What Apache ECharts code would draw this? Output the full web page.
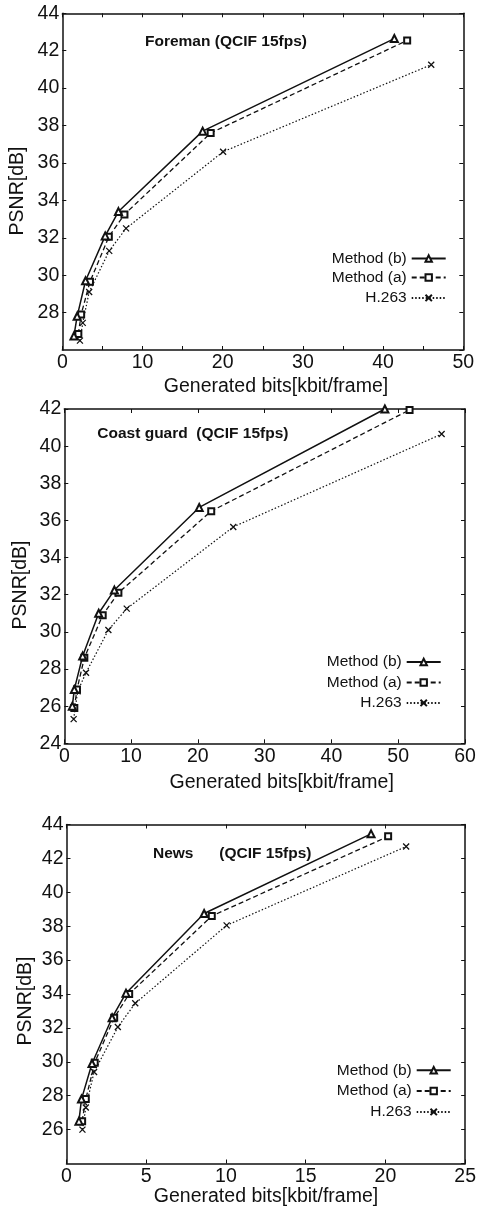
<!DOCTYPE html>
<html><head><meta charset="utf-8">
<script src="https://cdn.jsdelivr.net/npm/echarts@6/dist/echarts.min.js"></script>
<style>html,body{margin:0;padding:0;background:#fff}#c{width:479px;height:1214px}</style>
</head><body><div id="c"></div>
<script>
// ---------------- data ----------------
const seriesNames = ['Method (b)', 'Method (a)', 'H.263'];
const chartTitles = ['Foreman (QCIF 15fps)', 'Coast guard  (QCIF 15fps)', 'News      (QCIF 15fps)'];
const xAxisName = 'Generated bits[kbit/frame]';
const yAxisName = 'PSNR[dB]';

// [x kbit/frame, PSNR dB]
const foremanB = [[1.45,26.75],[1.85,27.8],[2.9,29.7],[5.35,32.1],[7.0,33.4],[17.5,37.7],[41.4,42.65]];
const foremanA = [[2.0,26.85],[2.35,27.9],[3.45,29.65],[5.8,32.05],[7.75,33.25],[18.5,37.6],[43.0,42.55]];
const foremanH = [[2.2,26.5],[2.55,27.45],[3.35,29.1],[5.85,31.3],[7.95,32.5],[20.05,36.6],[46.0,41.25]];

const coastB = [[1.2,26.0],[1.5,26.9],[2.75,28.7],[5.15,31.0],[7.5,32.25],[20.2,36.7],[48.0,42.0]];
const coastA = [[1.5,25.9],[1.9,26.9],[3.0,28.6],[5.75,30.9],[8.1,32.1],[22.0,36.5],[51.7,41.95]];
const coastH = [[1.4,25.3],[2.0,26.8],[3.25,27.8],[6.6,30.1],[9.35,31.25],[25.3,35.65],[56.5,40.65]];

const newsB = [[0.78,26.5],[0.94,27.8],[1.6,29.9],[2.86,32.6],[3.73,34.05],[8.63,38.75],[19.1,43.45]];
const newsA = [[0.98,26.5],[1.21,27.8],[1.77,29.95],[2.99,32.6],[3.93,34.0],[9.11,38.6],[20.17,43.3]];
const newsH = [[1.0,26.0],[1.21,27.3],[1.73,29.4],[3.22,32.05],[4.31,33.45],[10.04,38.05],[21.3,42.7]];

// axis ranges [min, max, tick interval], label step
const xRanges = [[0,50,5],[0,60,10],[0,25,5]];
const xLabelSteps = [10,10,5];
const yRanges = [[26,44,2],[24,42,2],[24,44,2]];
const yShowMinLabel = [false,true,false];

// ---------------- layout / style ----------------
const FONT = '"Liberation Sans", Arial, Helvetica, sans-serif';
const INK = '#111';
const grids = [
  {left:62.3, top:13.3, width:401, height:336.7},
  {left:64.3, top:409, width:400.7, height:334.3},
  {left:66.5, top:824.5, width:403, height:339}
];
const chartSeries = [[foremanB,foremanA,foremanH],[coastB,coastA,coastH],[newsB,newsA,newsH]];
const titlePos = [[145,41.7],[97.3,433.3],[153,853.3]];
const xNamePos = [[276,386.7],[281.7,783],[266,1197]];
const yNamePos = [[18,191],[21,585],[26,1001]];
const legendRows = [[258.3,277.3,297.7],[661.7,682.3,702.7],[1070,1090.7,1111.7]];
const legendRight = [32.3,37.3,27.3];

const seriesStyles = [
  {symbol:'emptyTriangle', symbolSize:7, lineStyle:{color:INK,width:1.5,type:'solid'}, itemStyle:{color:INK,borderColor:INK,borderWidth:1.3}},
  {symbol:'emptyRect', symbolSize:6, lineStyle:{color:INK,width:1.3,type:[5,3]}, itemStyle:{color:INK,borderColor:INK,borderWidth:1.2}},
  {symbol:'path://M0,0L10,10M10,0L0,10', symbolSize:6, lineStyle:{color:INK,width:1.2,type:[1.5,2]}, itemStyle:{color:INK,borderColor:INK,borderWidth:1.3}}
];

const xAxes = [], yAxes = [], series = [], legends = [], graphics = [];
const axisLine = {show:true, onZero:false, lineStyle:{color:INK, width:1.5}};
const axisTick = {show:true, inside:true, length:4, lineStyle:{color:INK, width:1}};

for (let i = 0; i < 3; i++) {
  const [xmin,xmax,xint] = xRanges[i];
  const [ymin,ymax,yint] = yRanges[i];
  const step = xLabelSteps[i];
  xAxes.push({type:'value', gridIndex:i, position:'bottom', min:xmin, max:xmax, interval:xint,
    axisLine, axisTick, splitLine:{show:false},
    axisLabel:{color:INK, fontSize:19.5, fontFamily:FONT, margin:3,
      formatter: v => (Math.abs(v/step - Math.round(v/step)) < 1e-9 ? String(v) : '')}});
  xAxes.push({type:'value', gridIndex:i, position:'top', min:xmin, max:xmax, interval:xint,
    axisLine, axisTick, splitLine:{show:false}, axisLabel:{show:false}});
  yAxes.push({type:'value', gridIndex:i, position:'left', min:ymin, max:ymax, interval:yint,
    axisLine, axisTick, splitLine:{show:false},
    axisLabel:{color:INK, fontSize:19.5, fontFamily:FONT, margin:3, showMinLabel:yShowMinLabel[i]}});
  yAxes.push({type:'value', gridIndex:i, position:'right', min:ymin, max:ymax, interval:yint,
    axisLine, axisTick, splitLine:{show:false}, axisLabel:{show:false}});

  chartSeries[i].forEach((d, k) => {
    const st = seriesStyles[k];
    series.push({type:'line', name:seriesNames[k], xAxisIndex:2*i, yAxisIndex:2*i, data:d,
      symbol:st.symbol, symbolSize:st.symbolSize, showAllSymbol:true,
      lineStyle:st.lineStyle, itemStyle:st.itemStyle, z:5-k, silent:true});
    legends.push({data:[seriesNames[k]], orient:'horizontal', align:'right', right:legendRight[i],
      top:legendRows[i][k]-7.75, padding:0, itemWidth:34, itemHeight:8, selectedMode:false,
      textStyle:{color:INK, fontSize:15.5, fontFamily:FONT}});
  });

  graphics.push({type:'text', x:titlePos[i][0], y:titlePos[i][1],
    style:{text:chartTitles[i], fill:INK, font:'bold 15.5px ' + FONT, textAlign:'left', textVerticalAlign:'middle'}});
  graphics.push({type:'text', x:xNamePos[i][0], y:xNamePos[i][1],
    style:{text:xAxisName, fill:INK, font:'19.5px ' + FONT, textAlign:'center', textVerticalAlign:'middle'}});
  graphics.push({type:'text', x:yNamePos[i][0], y:yNamePos[i][1], rotation:Math.PI/2,
    style:{text:yAxisName, fill:INK, font:'19.5px ' + FONT, textAlign:'center', textVerticalAlign:'middle'}});
}

const chart = echarts.init(document.getElementById('c'), null, {renderer:'canvas'});
chart.setOption({
  backgroundColor:'#fff',
  animation:false,
  grid:grids,
  xAxis:xAxes,
  yAxis:yAxes,
  legend:legends,
  series:series,
  graphic:graphics
});
</script></body></html>
